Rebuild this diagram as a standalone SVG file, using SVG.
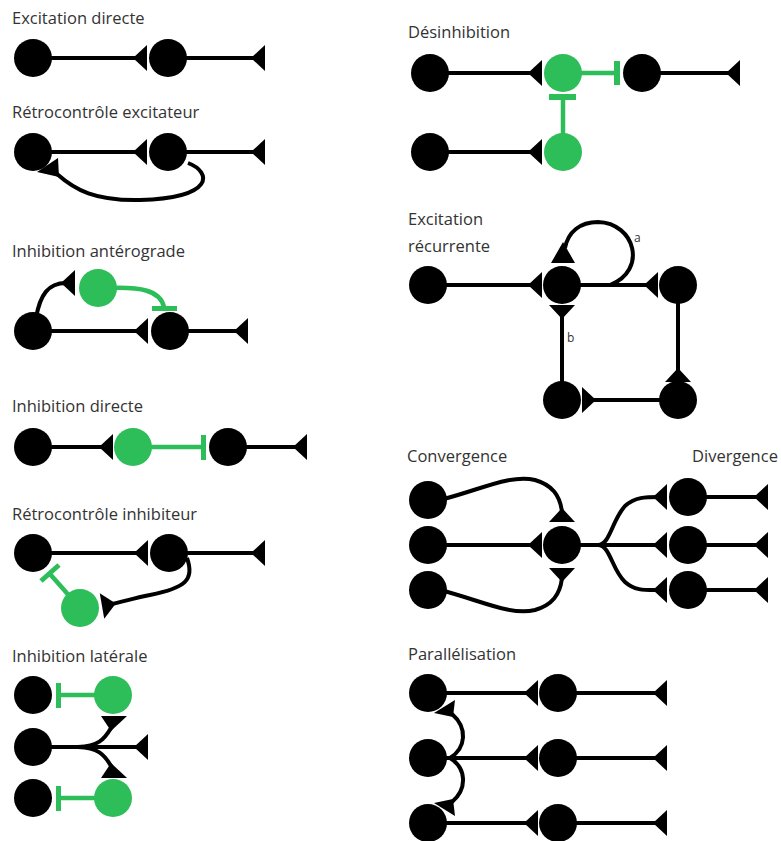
<svg xmlns="http://www.w3.org/2000/svg" width="781" height="841" viewBox="0 0 781 841">
<defs>
<style>
.t{font-family:"Open Sans","Noto Sans","Liberation Sans",sans-serif;font-size:16.5px;fill:#333}
.s{font-family:"Open Sans","Noto Sans","Liberation Sans",sans-serif;font-size:12px;fill:#333}
.n{fill:#000}
.g{fill:#2dbd59}
.ax{stroke:#000;stroke-width:4;fill:none}
.ig{stroke:#2dbd59;stroke-width:4.5;fill:none}
.bar{fill:#2dbd59}
.tri{fill:#000}
</style>
<path id="syn" d="M0,-13 L0,13 L14,0 Z" fill="#000"/>
</defs>
<rect width="781" height="841" fill="#fff"/>

<g id="labels">
<text class="t" x="12" y="24">Excitation directe</text>
<text class="t" x="12" y="118">Rétrocontrôle excitateur</text>
<text class="t" x="12" y="257">Inhibition antérograde</text>
<text class="t" x="12" y="412">Inhibition directe</text>
<text class="t" x="12" y="520">Rétrocontrôle inhibiteur</text>
<text class="t" x="12" y="662">Inhibition latérale</text>
<text class="t" x="408" y="38">Désinhibition</text>
<text class="t" x="408" y="225">Excitation</text>
<text class="t" x="408" y="252">récurrente</text>
<text class="t" x="407" y="462">Convergence</text>
<text class="t" x="692" y="462">Divergence</text>
<text class="t" x="408" y="660">Parallélisation</text>
<text class="s" x="634" y="242">a</text>
<text class="s" x="567" y="342">b</text>
</g>

<g id="connectors">
<!-- Excitation directe -->
<line class="ax" x1="33" y1="58" x2="140" y2="58"/>
<use href="#syn" transform="translate(147,58) rotate(180)"/>
<line class="ax" x1="168" y1="58" x2="258" y2="58"/>
<use href="#syn" transform="translate(265,58) rotate(180)"/>
<!-- Retrocontrole excitateur -->
<line class="ax" x1="33" y1="152" x2="140" y2="152"/>
<use href="#syn" transform="translate(147,152) rotate(180)"/>
<line class="ax" x1="168" y1="152" x2="258" y2="152"/>
<use href="#syn" transform="translate(265,152) rotate(180)"/>
<path class="ax" d="M188,163 C212,172 215,198 140,200 C95,201 75,190 57,174"/>
<polygon class="tri" points="37,172 58,158 59,177"/>
<!-- Inhibition anterograde -->
<line class="ax" x1="33" y1="331" x2="140" y2="331"/>
<use href="#syn" transform="translate(148,331) rotate(180)"/>
<line class="ax" x1="170" y1="331" x2="240" y2="331"/>
<use href="#syn" transform="translate(248,331) rotate(180)"/>
<path class="ax" d="M36,318 C40,295 48,283 66,283"/>
<use href="#syn" transform="translate(75,283) rotate(180)"/>
<path class="ig" d="M110,288 C140,287 160,290 164,307"/>
<rect class="bar" x="152" y="306" width="25" height="5"/>
<!-- Inhibition directe -->
<line class="ax" x1="33" y1="447" x2="106" y2="447"/>
<use href="#syn" transform="translate(113,447) rotate(180)"/>
<line class="ig" x1="133" y1="447" x2="203" y2="447"/>
<rect class="bar" x="201" y="435" width="5" height="25"/>
<line class="ax" x1="228" y1="447" x2="300" y2="447"/>
<use href="#syn" transform="translate(307,447) rotate(180)"/>
<!-- Retrocontrole inhibiteur -->
<line class="ax" x1="33" y1="553" x2="140" y2="553"/>
<use href="#syn" transform="translate(148,553) rotate(180)"/>
<line class="ax" x1="169" y1="553" x2="258" y2="553"/>
<use href="#syn" transform="translate(265,553) rotate(180)"/>
<path class="ig" d="M80,608 L50,574"/>
<line x1="41" y1="581" x2="59" y2="565" stroke="#2dbd59" stroke-width="5"/>
<path class="ax" d="M187,558 C195,580 185,588 150,595 C135,598 125,601 112,604"/>
<use href="#syn" transform="translate(102,606) rotate(-10)"/>
<!-- Inhibition laterale -->
<line class="ig" x1="58" y1="695" x2="113" y2="695"/>
<rect class="bar" x="56" y="683" width="5" height="25"/>
<line class="ax" x1="33" y1="747" x2="140" y2="747"/>
<use href="#syn" transform="translate(148,747) rotate(180)"/>
<path class="ax" d="M78,747 C98,746 104,740 111,728"/>
<polygon class="tri" points="101,716 127,716 111,731"/>
<path class="ax" d="M78,747 C98,748 104,754 111,766"/>
<polygon class="tri" points="101,778 127,778 111,763"/>
<line class="ig" x1="58" y1="798" x2="113" y2="798"/>
<rect class="bar" x="56" y="786" width="5" height="25"/>
<!-- Desinhibition -->
<line class="ax" x1="430" y1="73" x2="535" y2="73"/>
<use href="#syn" transform="translate(542,73) rotate(180)"/>
<line class="ig" x1="563" y1="73" x2="617" y2="73"/>
<rect class="bar" x="614" y="61" width="6" height="24"/>
<line class="ax" x1="642" y1="73" x2="733" y2="73"/>
<use href="#syn" transform="translate(740,73) rotate(180)"/>
<line class="ax" x1="430" y1="152" x2="535" y2="152"/>
<use href="#syn" transform="translate(542,152) rotate(180)"/>
<line class="ig" x1="563" y1="152" x2="563" y2="97"/>
<rect class="bar" x="549" y="94" width="27" height="6"/>
<!-- Excitation recurrente -->
<line class="ax" x1="428" y1="285" x2="535" y2="285"/>
<use href="#syn" transform="translate(542,285) rotate(180)"/>
<line class="ax" x1="562" y1="285" x2="651" y2="285"/>
<use href="#syn" transform="translate(658,285) rotate(180)"/>
<path class="ax" d="M565,248 C568,232 580,222 598,222 C635,223 648,270 610,285"/>
<polygon class="tri" points="551,263 575,263 563,242"/>
<line class="ax" x1="562" y1="312" x2="562" y2="400"/>
<use href="#syn" transform="translate(562,305) rotate(90)"/>
<line class="ax" x1="678" y1="285" x2="678" y2="375"/>
<use href="#syn" transform="translate(678,382) rotate(-90)"/>
<line class="ax" x1="678" y1="400" x2="589" y2="400"/>
<use href="#syn" transform="translate(582,400)"/>
<!-- Convergence / Divergence -->
<line class="ax" x1="428" y1="545" x2="535" y2="545"/>
<use href="#syn" transform="translate(542,545) rotate(180)"/>
<path class="ax" d="M440,500 C480,490 510,474 535,480 C552,485 560,495 562,512"/>
<use href="#syn" transform="translate(562,522) rotate(-90)"/>
<path class="ax" d="M440,590 C480,600 510,616 535,610 C552,605 560,595 562,578"/>
<use href="#syn" transform="translate(562,568) rotate(90)"/>
<line class="ax" x1="562" y1="545" x2="660" y2="545"/>
<use href="#syn" transform="translate(667,545) rotate(180)"/>
<path class="ax" d="M598,545 C610,545 612,520 625,506 C635,497 645,497 660,497"/>
<use href="#syn" transform="translate(667,497) rotate(180)"/>
<path class="ax" d="M598,545 C610,545 612,570 625,582 C635,591 645,590 660,590"/>
<use href="#syn" transform="translate(667,590) rotate(180)"/>
<line class="ax" x1="688" y1="497" x2="761" y2="497"/>
<use href="#syn" transform="translate(768,497) rotate(180)"/>
<line class="ax" x1="688" y1="545" x2="761" y2="545"/>
<use href="#syn" transform="translate(768,545) rotate(180)"/>
<line class="ax" x1="688" y1="590" x2="761" y2="590"/>
<use href="#syn" transform="translate(768,590) rotate(180)"/>
<!-- Parallelisation -->
<line class="ax" x1="428" y1="693" x2="531" y2="693"/>
<use href="#syn" transform="translate(538,693) rotate(180)"/>
<line class="ax" x1="558" y1="693" x2="660" y2="693"/>
<use href="#syn" transform="translate(667,693) rotate(180)"/>
<line class="ax" x1="428" y1="758" x2="531" y2="758"/>
<use href="#syn" transform="translate(538,758) rotate(180)"/>
<line class="ax" x1="558" y1="758" x2="660" y2="758"/>
<use href="#syn" transform="translate(667,758) rotate(180)"/>
<line class="ax" x1="428" y1="823" x2="531" y2="823"/>
<use href="#syn" transform="translate(538,823) rotate(180)"/>
<line class="ax" x1="558" y1="823" x2="660" y2="823"/>
<use href="#syn" transform="translate(667,823) rotate(180)"/>
<path class="ax" d="M450,758 C466,748 468,728 452,714"/>
<polygon class="tri" points="434,713 455,700 453,717"/>
<path class="ax" d="M450,758 C466,768 468,788 452,802"/>
<polygon class="tri" points="434,803 455,816 453,799"/>
</g>

<g id="n-ed1"><circle class="n" cx="33" cy="58" r="19"/></g>
<g id="n-ed2"><circle class="n" cx="168" cy="58" r="19"/></g>
<g id="n-re1"><circle class="n" cx="33" cy="152" r="19"/></g>
<g id="n-re2"><circle class="n" cx="168" cy="152" r="19"/></g>
<g id="n-ia1"><circle class="n" cx="33" cy="331" r="19"/></g>
<g id="n-ia2"><circle class="n" cx="170" cy="331" r="19"/></g>
<g id="n-ia3"><circle class="g" cx="98" cy="288" r="19"/></g>
<g id="n-id1"><circle class="n" cx="33" cy="447" r="19"/></g>
<g id="n-id2"><circle class="g" cx="133" cy="447" r="19"/></g>
<g id="n-id3"><circle class="n" cx="228" cy="447" r="19"/></g>
<g id="n-ri1"><circle class="n" cx="33" cy="553" r="19"/></g>
<g id="n-ri2"><circle class="n" cx="169" cy="553" r="19"/></g>
<g id="n-ri3"><circle class="g" cx="80" cy="608" r="19"/></g>
<g id="n-il1"><circle class="n" cx="33" cy="695" r="19"/></g>
<g id="n-il2"><circle class="g" cx="113" cy="695" r="19"/></g>
<g id="n-il3"><circle class="n" cx="33" cy="747" r="19"/></g>
<g id="n-il4"><circle class="n" cx="33" cy="798" r="19"/></g>
<g id="n-il5"><circle class="g" cx="113" cy="798" r="19"/></g>
<g id="n-di1"><circle class="n" cx="430" cy="73" r="19"/></g>
<g id="n-di2"><circle class="g" cx="563" cy="73" r="19"/></g>
<g id="n-di3"><circle class="n" cx="642" cy="73" r="19"/></g>
<g id="n-di4"><circle class="n" cx="430" cy="152" r="19"/></g>
<g id="n-di5"><circle class="g" cx="563" cy="152" r="19"/></g>
<g id="n-er1"><circle class="n" cx="428" cy="285" r="19"/></g>
<g id="n-er2"><circle class="n" cx="562" cy="285" r="19"/></g>
<g id="n-er3"><circle class="n" cx="678" cy="285" r="19"/></g>
<g id="n-er4"><circle class="n" cx="562" cy="400" r="19"/></g>
<g id="n-er5"><circle class="n" cx="678" cy="400" r="19"/></g>
<g id="n-cv1"><circle class="n" cx="428" cy="500" r="19"/></g>
<g id="n-cv2"><circle class="n" cx="428" cy="545" r="19"/></g>
<g id="n-cv3"><circle class="n" cx="428" cy="590" r="19"/></g>
<g id="n-cv4"><circle class="n" cx="562" cy="545" r="19"/></g>
<g id="n-dv1"><circle class="n" cx="688" cy="497" r="19"/></g>
<g id="n-dv2"><circle class="n" cx="688" cy="545" r="19"/></g>
<g id="n-dv3"><circle class="n" cx="688" cy="590" r="19"/></g>
<g id="n-pa1"><circle class="n" cx="428" cy="693" r="19"/></g>
<g id="n-pa2"><circle class="n" cx="558" cy="693" r="19"/></g>
<g id="n-pa3"><circle class="n" cx="428" cy="758" r="19"/></g>
<g id="n-pa4"><circle class="n" cx="558" cy="758" r="19"/></g>
<g id="n-pa5"><circle class="n" cx="428" cy="823" r="19"/></g>
<g id="n-pa6"><circle class="n" cx="558" cy="823" r="19"/></g>
</svg>
